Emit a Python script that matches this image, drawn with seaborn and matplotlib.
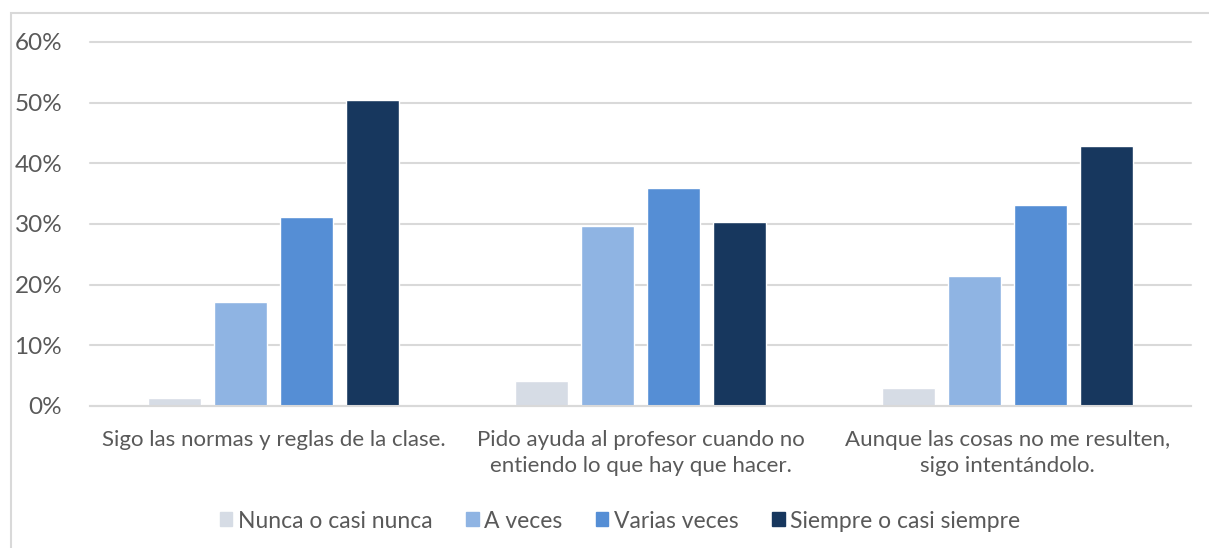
import matplotlib
matplotlib.use("Agg")
import matplotlib.pyplot as plt
import matplotlib.patches as mpatches
import pandas as pd
import seaborn as sns
from matplotlib.ticker import PercentFormatter

# ---------------------------------------------------------------------------
# Data
# ---------------------------------------------------------------------------
items = [
    "Sigo las normas y reglas de la clase.",
    "Pido ayuda al profesor cuando no\nentiendo lo que hay que hacer.",
    "Aunque las cosas no me resulten,\nsigo intentándolo.",
]
answers = ["Nunca o casi nunca", "A veces", "Varias veces", "Siempre o casi siempre"]
nunca = [0.014, 0.042, 0.029]
a_veces = [0.172, 0.297, 0.214]
varias = [0.311, 0.360, 0.331]
siempre = [0.505, 0.303, 0.428]

colours = ["#D6DCE5", "#8FB4E3", "#558ED5", "#17375E"]
text_c = "#595959"
grid_c = "#D9D9D9"

rows = []
for ans, vals in zip(answers, [nunca, a_veces, varias, siempre]):
    for item, v in zip(items, vals):
        rows.append({"item": item, "answer": ans, "pct": v})
df = pd.DataFrame(rows)

sns.set_theme(style="white")
plt.rcParams["font.family"] = ["Lato", "DejaVu Sans"]

fig = plt.figure(figsize=(12.09, 5.48), dpi=100)
ax = fig.add_axes([90 / 1209, 1 - 406 / 548, 1101 / 1209, 364 / 548])

sns.barplot(data=df, x="item", y="pct", hue="answer", hue_order=answers,
            order=items, palette=colours, width=0.72, gap=0.2,
            legend=False, ax=ax, saturation=1)

ax.set_ylim(0, 0.6)
ax.set_xlim(-0.5, 2.5)
ax.yaxis.set_major_formatter(PercentFormatter(1.0, decimals=0))
ax.set_yticks([0, 0.1, 0.2, 0.3, 0.4, 0.5, 0.6])
ax.grid(axis="y", color=grid_c, lw=1.5)
for gl in ax.get_ygridlines():
    gl.set_clip_on(False)
ax.set_axisbelow(True)
for s in ["top", "right", "left"]:
    ax.spines[s].set_visible(False)
ax.spines["bottom"].set_color(grid_c)
ax.spines["bottom"].set_linewidth(1.5)
ax.tick_params(axis="both", length=0, colors=text_c, labelsize=16)
ax.tick_params(axis="y", pad=20, labelsize=17.5)
ax.tick_params(axis="x", pad=17)
ax.set_xlabel("")
ax.set_ylabel("")
for lbl in ax.get_xticklabels():
    lbl.set_linespacing(1.4)

handles = [mpatches.Patch(color=c, label=a) for c, a in zip(colours, answers)]
leg = fig.legend(handles=handles, loc="center", bbox_to_anchor=(0.513, 1 - 521 / 548),
                 ncol=4, frameon=False, fontsize=16.5, handlelength=0.55,
                 handleheight=0.55, handletextpad=0.25, columnspacing=1.45)
for t in leg.get_texts():
    t.set_color(text_c)

# light chart frame (left and top edges visible)
fig.patches.append(mpatches.Rectangle((11 / 1209, -0.05), 1.2, 1 - 13 / 548 + 0.05,
                                      transform=fig.transFigure, fill=False,
                                      edgecolor=grid_c, lw=1.5))

fig.savefig("out.png", dpi=100)
